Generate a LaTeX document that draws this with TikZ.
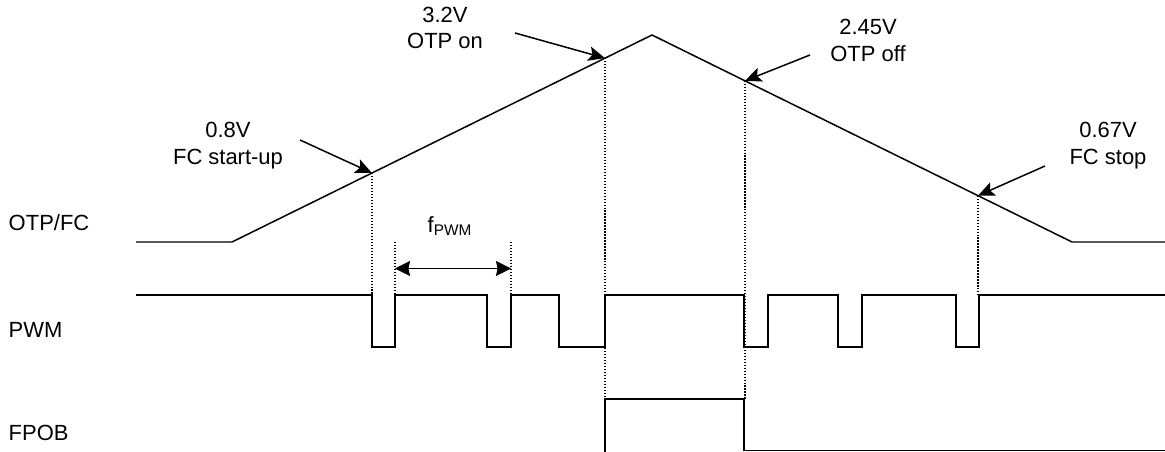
\documentclass[tikz,border=0pt]{standalone}
\usepackage{fontspec}
\setmainfont{Liberation Sans}
\usetikzlibrary{arrows.meta,calc}

\begin{document}
\begin{tikzpicture}[x=0.02cm,y=-0.02cm,line width=0.85pt,
  every node/.style={font=\fontsize{12.5}{15.3}\selectfont,inner sep=0pt}]
\useasboundingbox (0,0) rectangle (1165,452);

\node [anchor=west] (OTPFC) at (8,223) {OTP/FC};
\node [anchor=west] (PWM) at (8,330) {PWM};
\node [anchor=west] (FPOB) at (8,433) {FPOB};

\coordinate (S) at (136,242);
\coordinate (A) at (232,242);
\coordinate (P) at (652,35);
\coordinate (B) at (1072,242);
\coordinate (E) at (1165,242);
\draw (S) -- (A) -- (P) -- (B) -- (E);

\coordinate (C) at ($(A)!0.3333!(P)$);
\coordinate (D) at ($(A)!0.8881!(P)$);
\coordinate (F) at ($(P)!0.2214!(B)$);
\coordinate (G) at ($(P)!0.7762!(B)$);

\node [align=center] (Cl) at (228,145.5) {0.8V\\FC start-up};
\node [align=center] (Dl) at (445,28) {3.2V\\OTP on};
\node [align=center] (Fl) at (868,40.5) {2.45V\\OTP off};
\node [align=center] (Gl) at (1108,145.5) {0.67V\\FC stop};

\coordinate (Ca) at (300,140);
\coordinate (Da) at (515,33);
\coordinate (Fa) at (810,55);
\coordinate (Ga) at (1045,166);
\draw [-{Stealth[length=3.3mm,width=2.9mm,inset=0.7mm]}] (Ca) -- (C);
\draw [-{Stealth[length=3.3mm,width=2.9mm,inset=0.7mm]}] (Da) -- (D);
\draw [-{Stealth[length=3.3mm,width=2.9mm,inset=0.7mm]}] (Fa) -- (F);
\draw [-{Stealth[length=3.3mm,width=2.9mm,inset=0.7mm]}] (Ga) -- (G);

\draw (136,295) -| (372,347) -| (395,295) -| (487,347) -| (511,295) -| (559,347)
  -| (605,295) -| (744,347) -| (768,295) -| (838,347) -| (862,295) -| (956,347)
  -| (979,295) -- (1165,295);
\draw (605,452) |- (744,399) |- (1165,450.5);

\draw [densely dotted,line width=0.7pt] (C) -- (C |- 0,295);
\draw [densely dotted,line width=0.7pt] (D) -- (D |- 0,399);
\draw [densely dotted,line width=0.7pt] (F) -- (F |- 0,399);
\draw [densely dotted,line width=0.7pt] (G) -- (G |- 0,295);

\coordinate (H) at (395,242);
\coordinate (K) at (511,242);
\draw [densely dotted,line width=0.7pt] (H) -- (H |- 0,295);
\draw [densely dotted,line width=0.7pt] (K) -- (K |- 0,295);
\draw [{Stealth[length=3mm,width=3mm,inset=0.3mm]}-{Stealth[length=3mm,width=3mm,inset=0.3mm]}]
  ($(H)!0.5!(H |- 0,295)$) -- ($(K)!0.5!(K |- 0,295)$);
\node (fPWM) at (450,226) {f\textsubscript{PWM}};

\end{tikzpicture}
\end{document}
